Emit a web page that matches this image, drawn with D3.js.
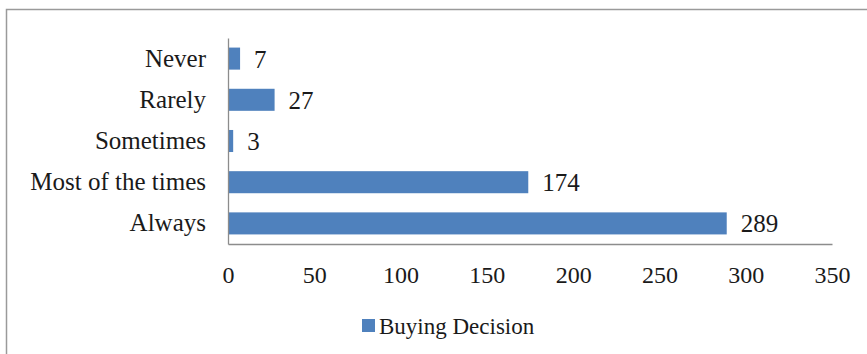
<!DOCTYPE html>
<html>
<head>
<meta charset="utf-8">
<script src="https://cdn.jsdelivr.net/npm/d3@7"></script>
<style>
  html, body { margin: 0; padding: 0; background: #fff; }
  svg { display: block; }
  text { font-family: "Liberation Serif", "Times New Roman", serif; fill: #1a1a1a; }
</style>
</head>
<body>
<svg id="chart" width="867" height="354"></svg>
<script>
// Survey responses: how often the factor drives the buying decision
const categories = ["Never", "Rarely", "Sometimes", "Most of the times", "Always"];
const values = [7, 27, 3, 174, 289];
const xTicks = [0, 50, 100, 150, 200, 250, 300, 350];
const seriesName = "Buying Decision";

const svg = d3.select("#chart");
const W = 867, H = 354;
const barColor = "#4f81bd";
const axisColor = "#8c8c8c";
const serif = "Liberation Serif, Times New Roman, serif";

// outer frame of the chart area
svg.append("path")
  .attr("d", `M6.5,${H} V9.5 H${W}`)
  .attr("fill", "none")
  .attr("stroke", "#9a9a9a")
  .attr("stroke-width", 1.5);

const plot = { left: 228, right: 832, top: 38, bottom: 244 };

const x = d3.scaleLinear().domain([0, 350]).range([plot.left, plot.right]);
const y = d3.scaleBand().domain(categories).range([plot.top, plot.bottom])
  .paddingInner(0.465).paddingOuter(0.2325);

// bars
svg.append("g").selectAll("rect")
  .data(categories)
  .join("rect")
  .attr("x", x(0))
  .attr("y", d => y(d))
  .attr("width", (d, i) => x(values[i]) - x(0))
  .attr("height", y.bandwidth())
  .attr("fill", barColor);

// value labels
svg.append("g").selectAll("text")
  .data(categories)
  .join("text")
  .attr("x", (d, i) => x(values[i]) + 14)
  .attr("y", d => y(d) + y.bandwidth() / 2)
  .attr("dy", "0.36em")
  .attr("font-size", 25)
  .text((d, i) => values[i]);

// category axis
const yAxis = svg.append("g")
  .attr("transform", `translate(${plot.left},0)`)
  .call(d3.axisLeft(y).tickSize(0).tickPadding(22));
yAxis.select(".domain").attr("stroke", axisColor).attr("stroke-width", 1.3);
yAxis.selectAll("text").attr("font-size", 25).attr("font-family", serif).attr("fill", "#1a1a1a");

// value axis
const xAxis = svg.append("g")
  .attr("transform", `translate(0,${plot.bottom})`)
  .call(d3.axisBottom(x).tickValues(xTicks).tickSize(0).tickPadding(22));
xAxis.select(".domain").attr("stroke", axisColor).attr("stroke-width", 1.3);
xAxis.selectAll("text").attr("font-size", 24).attr("font-family", serif).attr("fill", "#1a1a1a");

// legend
const legend = svg.append("g").attr("transform", "translate(362,319)");
legend.append("rect").attr("width", 13).attr("height", 13).attr("fill", barColor);
legend.append("text")
  .attr("x", 17).attr("y", 6.5).attr("dy", "0.36em")
  .attr("font-size", 23)
  .text(seriesName);
</script>
</body>
</html>
